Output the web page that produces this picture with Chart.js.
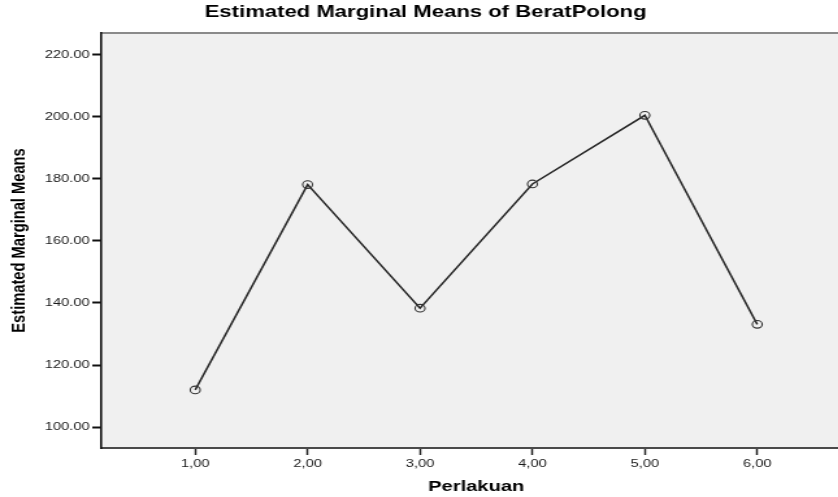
<!DOCTYPE html>
<html>
<head>
<meta charset="utf-8">
<script src="https://cdn.jsdelivr.net/npm/chart.js@4.4.1/dist/chart.umd.min.js"></script>
<style>
	html, body { margin: 0; padding: 0; background: #fff; overflow: hidden; }
	/* the reference image is stretched sideways, so the chart is too */
	#wrap { width: 668px; height: 497px; transform: scaleX(1.2994); transform-origin: 0 0; }
</style>
</head>
<body>
<div id="wrap"><canvas id="chart" width="668" height="497"></canvas></div>
<script>
const categories = ['1,00', '2,00', '3,00', '4,00', '5,00', '6,00'];
const perlakuan = [1, 2, 3, 4, 5, 6];
const beratPolong = [112.0, 178.1, 138.3, 178.3, 200.4, 133.1];
const yTicks = [100, 120, 140, 160, 180, 200, 220];

const FONT = "'Liberation Sans', Arial, sans-serif";

// plot background and the gray top edge of the frame
const framePlugin = {
	id: 'frame',
	beforeDraw(chart) {
		const { ctx, chartArea: a } = chart;
		ctx.save();
		ctx.fillStyle = '#f0f0f0';
		ctx.fillRect(a.left, a.top, a.right - a.left, a.bottom - a.top);
		ctx.strokeStyle = '#8a8a8a';
		ctx.lineWidth = 2;
		ctx.beginPath();
		ctx.moveTo(a.left, a.top);
		ctx.lineTo(a.right, a.top);
		ctx.stroke();
		ctx.restore();
	},
};

const ctx = document.getElementById('chart').getContext('2d');

new Chart(ctx, {
	type: 'line',
	data: {
		datasets: [
			{
				label: 'BeratPolong',
				data: perlakuan.map((x, i) => ({ x, y: beratPolong[i] })),
				borderColor: '#262626',
				borderWidth: 1.5,
				pointRadius: 3.8,
				pointBorderWidth: 1.1,
				pointBorderColor: '#333',
				pointBackgroundColor: 'rgba(0,0,0,0)',
				tension: 0,
			},
		],
	},
	options: {
		responsive: false,
		animation: false,
		layout: { padding: { left: 0, right: 13, top: 0, bottom: 0 } },
		plugins: {
			legend: { display: false },
			tooltip: { enabled: false },
			title: {
				display: true,
				text: 'Estimated Marginal Means of BeratPolong',
				color: '#000',
				font: { family: FONT, size: 17, weight: 'bold' },
				padding: { top: 2, bottom: 10.6 },
			},
		},
		scales: {
			x: {
				type: 'linear',
				min: 0.165,
				max: 6.835,
				afterBuildTicks: (scale) => {
					scale.ticks = perlakuan.map((v) => ({ value: v }));
				},
				afterFit: (scale) => {
					scale.height = 49;
				},
				ticks: {
					color: '#1a1a1a',
					font: { family: FONT, size: 11.3 },
					padding: 2,
					autoSkip: false,
					maxRotation: 0,
					callback: (v) => categories[perlakuan.indexOf(v)],
				},
				grid: {
					display: true,
					drawOnChartArea: false,
					drawTicks: true,
					tickLength: 7,
					tickWidth: 1.5,
					tickColor: '#222',
				},
				border: { display: true, color: '#4a4a4a', width: 2 },
				title: {
					display: true,
					text: 'Perlakuan',
					color: '#000',
					font: { family: FONT, size: 15.5, weight: 'bold' },
					padding: { top: 0, bottom: 1 },
				},
			},
			y: {
				min: 93.3,
				max: 226.9,
				afterBuildTicks: (scale) => {
					scale.ticks = yTicks.map((v) => ({ value: v }));
				},
				afterFit: (scale) => {
					scale.width = 78;
				},
				ticks: {
					color: '#1a1a1a',
					font: { family: FONT, size: 11.3 },
					padding: 2,
					callback: (v) => v.toFixed(2),
				},
				grid: {
					display: true,
					drawOnChartArea: false,
					drawTicks: true,
					tickLength: 7,
					tickWidth: 2,
					tickColor: '#111',
				},
				border: { display: true, color: '#111', width: 1.6 },
				title: {
					display: true,
					text: 'Estimated Marginal Means',
					color: '#000',
					font: { family: FONT, size: 14.7, weight: 'bold' },
					padding: { top: 6.5, bottom: 0 },
				},
			},
		},
	},
	plugins: [framePlugin],
});
</script>
</body>
</html>
